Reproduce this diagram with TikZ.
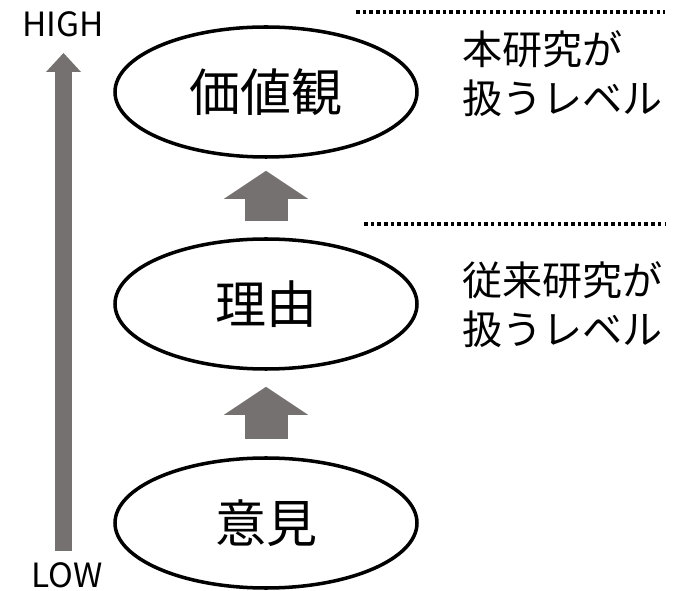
\documentclass[tikz,border=0pt]{standalone}
\usepackage{fontspec}
\setmainfont{Noto Sans CJK JP}
\usetikzlibrary{arrows.meta, shapes.geometric}
\definecolor{arrowgray}{RGB}{118,113,113}

\begin{document}
\begin{tikzpicture}[
    level/.style={draw, ellipse, line width=2pt, minimum width=6.04cm, minimum height=2.6cm, inner sep=0pt, font=\fontsize{29}{35}\selectfont},
    blockarrow/.style={draw=arrowgray, line width=0.86cm, -{Triangle[width=1.68cm, length=0.56cm, line width=0pt]}},
    axisarrow/.style={draw=arrowgray, line width=0.34cm, -{Triangle[width=0.70cm, length=0.38cm, line width=0pt]}},
    border/.style={line width=2.1pt, dash pattern=on 2pt off 1.8pt},
    scopenote/.style={anchor=west, align=left, inner sep=0pt, font=\fontsize{22.8}{28}\selectfont},
    axislabel/.style={inner sep=0pt, font=\fontsize{19}{23}\selectfont}
  ]
  \useasboundingbox (0,0) rectangle (13.62,11.8);

  \node[level] (value) at (5.32, 9.96) {価値観};
  \node[level] (reason) at (5.32, 5.72) {理由};
  \node[level] (opinion) at (5.32, 1.34) {意見};

  \draw[blockarrow, shorten <=0.32cm, shorten >=0.24cm] (reason.north) -- (value.south);
  \draw[blockarrow, shorten <=0.34cm, shorten >=0.32cm] (opinion.north) -- (reason.south);

  \node[axislabel] (high) at (1.26, 11.32) {HIGH};
  \node[axislabel] (low) at (1.34, 0.30) {LOW};
  \coordinate (lowEnd) at (1.27, 0.78);
  \coordinate (highEnd) at (1.27, 10.74);
  \draw[axisarrow] (lowEnd) -- (highEnd);

  \coordinate (newRuleL) at (7.12, 11.56);
  \coordinate (newRuleR) at (13.30, 11.56);
  \coordinate (oldRuleL) at (7.28, 7.32);
  \coordinate (oldRuleR) at (13.30, 7.32);
  \draw[border] (newRuleL) -- (newRuleR);
  \draw[border] (oldRuleL) -- (oldRuleR);

  \node[scopenote] (newNote) at (9.24, 10.32) {本研究が\\扱うレベル};
  \node[scopenote] (oldNote) at (9.24, 5.70) {従来研究が\\扱うレベル};
\end{tikzpicture}
\end{document}
